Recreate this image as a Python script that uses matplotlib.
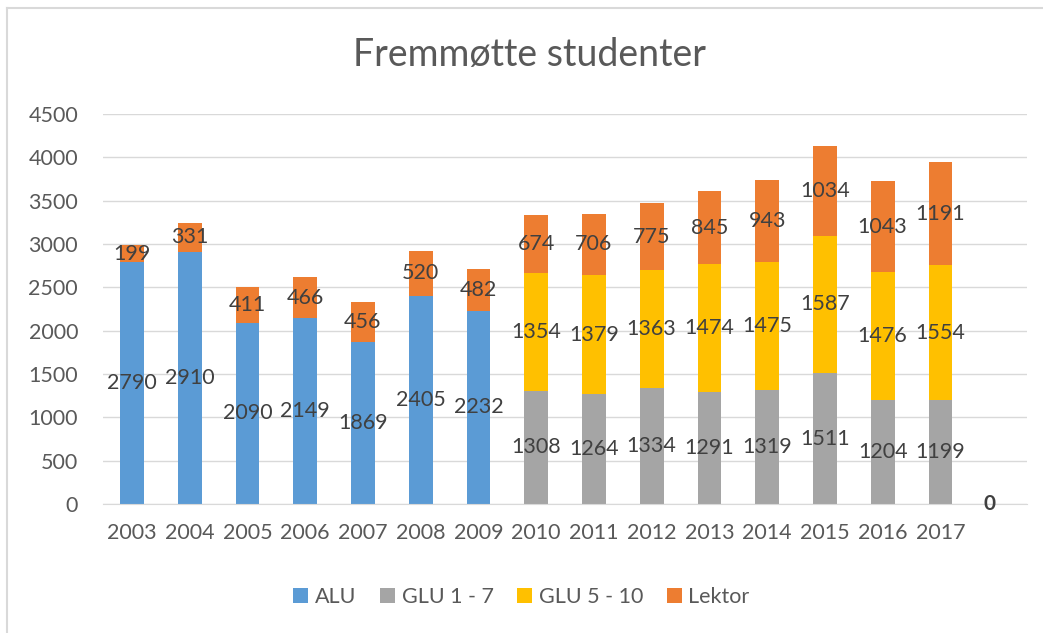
import numpy as np
import matplotlib.pyplot as plt
from matplotlib.lines import Line2D

plt.rcParams['font.family'] = ['Lato', 'DejaVu Sans']

years = ["2003", "2004", "2005", "2006", "2007", "2008", "2009", "2010",
         "2011", "2012", "2013", "2014", "2015", "2016", "2017", ""]
alu = [2790, 2910, 2090, 2149, 1869, 2405, 2232, 0, 0, 0, 0, 0, 0, 0, 0, 0]
glu17 = [0, 0, 0, 0, 0, 0, 0, 1308, 1264, 1334, 1291, 1319, 1511, 1204, 1199, 0]
glu510 = [0, 0, 0, 0, 0, 0, 0, 1354, 1379, 1363, 1474, 1475, 1587, 1476, 1554, 0]
lektor = [199, 331, 411, 466, 456, 520, 482, 674, 706, 775, 845, 943, 1034, 1043, 1191, 0]

series = [("ALU", alu, "#5B9BD5"),
          ("GLU 1 - 7", glu17, "#A5A5A5"),
          ("GLU 5 - 10", glu510, "#FFC000"),
          ("Lektor", lektor, "#ED7D31")]

fig = plt.figure(figsize=(10.43, 6.33), dpi=100)
ax = fig.add_axes([0.0988, 0.2038, 0.8859, 0.6161])

x = np.arange(len(years))
bottom = np.zeros(len(years))
for name, vals, col in series:
    vals = np.array(vals)
    bars = ax.bar(x, vals, 0.41, bottom=bottom, color=col, label=name, zorder=2)
    labs = [str(v) if v > 0 else "" for v in vals]
    ax.bar_label(bars, labels=labs, label_type="center", fontsize=15.5,
                 color="#404040", zorder=3)
    bottom = bottom + vals

# total label for the empty category
ax.text(x[-1] - 0.15, bottom[-1], str(int(bottom[-1])), ha="center", va="center",
        fontsize=15, fontweight="bold", color="#404040")

ax.set_xlim(-0.5, len(years) - 0.5)
ax.set_ylim(0, 4500)
ax.set_yticks(np.arange(0, 4501, 500))
ax.set_xticks(x)
ax.set_xticklabels(years)
ax.tick_params(axis="both", length=0, labelsize=15.5, colors="#595959")
ax.tick_params(axis="x", pad=14)
ax.tick_params(axis="y", pad=18)
ax.grid(axis="y", color="#D9D9D9", linewidth=1, zorder=0)
for s in ["top", "right", "left"]:
    ax.spines[s].set_visible(False)
ax.spines["bottom"].set_color("#D9D9D9")

fig.text(0.508, 0.913, "Fremmøtte studenter", ha="center", va="center",
         fontsize=27, color="#595959")

leg = fig.legend(loc="center", bbox_to_anchor=(0.5, 0.057), ncol=4, frameon=False,
                 fontsize=15.5, handlelength=0.7, handleheight=0.7,
                 handletextpad=0.3, columnspacing=1.1)
for t in leg.get_texts():
    t.set_color("#595959")

# chart border
fig.add_artist(Line2D([7 / 1043, 7 / 1043], [0, 1 - 8 / 633], color="#D9D9D9", lw=1.5))
fig.add_artist(Line2D([7 / 1043, 1], [1 - 8 / 633, 1 - 8 / 633], color="#D9D9D9", lw=1.5))

fig.savefig("out.png", dpi=100)
